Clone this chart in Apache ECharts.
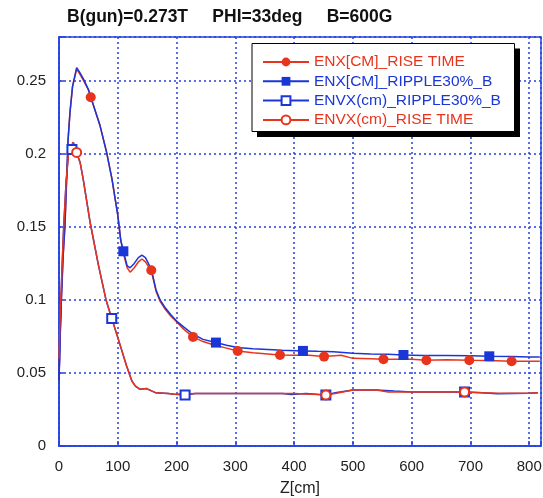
<!DOCTYPE html>
<html>
<head>
<meta charset="utf-8">
<script src="https://cdn.jsdelivr.net/npm/echarts@6/dist/echarts.min.js"></script>
<style>
  html, body { margin: 0; padding: 0; background: #ffffff; }
  #chart { width: 543px; height: 498px; }
</style>
</head>
<body>
<div id="chart"></div>
<script>
// Emittance along the beam line: ENX / ENVX for rise-time and 30% ripple cases
const chartTitle = 'B(gun)=0.273T     PHI=33deg     B=600G';
const xAxisName = 'Z[cm]';
const xTickValues = [0, 100, 200, 300, 400, 500, 600, 700, 800];
const yTickValues = [0, 0.05, 0.1, 0.15, 0.2, 0.25];
const yTickLabels = ['0', '0.05', '0.1', '0.15', '0.2', '0.25'];

const seriesNames = [
  'ENX[CM]_RISE TIME',
  'ENX[CM]_RIPPLE30%_B',
  'ENVX(cm)_RIPPLE30%_B',
  'ENVX(cm)_RISE TIME'
];

// ENX, rise time (red, filled circles)
const enxRiseZ = [0, 2, 4, 7, 10, 15.5, 18.7, 23, 30, 35, 42, 50, 62, 70, 81, 90, 100, 105, 110, 116, 121, 128, 135, 141, 147, 152, 165, 172, 180, 190, 200, 212, 245, 265, 285, 330, 355, 400, 425, 480, 500, 530, 580, 600, 660, 730, 800, 818];
const enxRiseV = [0.045, 0.075, 0.1, 0.13, 0.15, 0.21, 0.2285, 0.246, 0.258, 0.255, 0.25, 0.244, 0.229, 0.219, 0.201, 0.183, 0.158, 0.141, 0.131, 0.122, 0.119, 0.122, 0.126, 0.128, 0.126, 0.123, 0.106, 0.099, 0.094, 0.089, 0.085, 0.080, 0.0715, 0.069, 0.067, 0.0638, 0.063, 0.0621, 0.0621, 0.0621, 0.0600, 0.0597, 0.0594, 0.0594, 0.0590, 0.0585, 0.058, 0.058];
const enxRiseMarkZ = [54, 157, 228, 304, 376, 451, 552, 625, 698, 770];
const enxRiseMarkV = [0.2388, 0.1203, 0.0747, 0.0651, 0.0623, 0.0612, 0.0594, 0.0587, 0.0587, 0.058];

// ENX, 30% ripple (blue, filled squares)
const enxRippleZ = [0, 2, 4, 7, 10, 15.5, 18.7, 23, 30, 35, 42, 50, 62, 70, 81, 90, 100, 105, 116, 121, 128, 135, 141, 147, 152, 157, 165, 172, 180, 190, 200, 212, 228, 245, 285, 304, 330, 355, 380, 440, 467, 500, 530, 560, 620, 660, 700, 770, 800, 818];
const enxRippleV = [0.045, 0.075, 0.1, 0.13, 0.15, 0.21, 0.2285, 0.246, 0.259, 0.256, 0.251, 0.244, 0.229, 0.219, 0.201, 0.183, 0.158, 0.141, 0.1233, 0.122, 0.125, 0.129, 0.1306, 0.129, 0.125, 0.121, 0.107, 0.1, 0.095, 0.09, 0.0855, 0.0815, 0.0765, 0.073, 0.069, 0.0674, 0.0665, 0.066, 0.0655, 0.0648, 0.0646, 0.0635, 0.063, 0.0628, 0.062, 0.062, 0.0617, 0.0612, 0.061, 0.061];
const enxRippleMarkZ = [109.5, 267, 415, 586, 732];
const enxRippleMarkV = [0.1333, 0.0708, 0.0651, 0.0623, 0.0614];

// ENVX, 30% ripple (blue, hollow squares)
const envRippleZ = [0, 2, 5, 8, 12, 16, 20, 24.3, 27, 36, 41, 53, 67, 80, 101, 115, 124, 130, 138, 149, 164, 186, 196, 232, 300, 380, 395, 420, 470, 500, 540, 570, 600, 650, 720, 745, 800, 815];
const envRippleV = [0.045, 0.08, 0.12, 0.15, 0.18, 0.2, 0.205, 0.208, 0.204, 0.194, 0.183, 0.153, 0.124, 0.1, 0.073, 0.0548, 0.0445, 0.041, 0.0388, 0.0393, 0.0365, 0.0359, 0.0354, 0.036, 0.036, 0.036, 0.0352, 0.036, 0.0365, 0.0384, 0.0384, 0.0376, 0.037, 0.037, 0.0365, 0.0358, 0.0361, 0.0365];
const envRippleMarkZ = [22, 89.7, 214.5, 454, 690];
const envRippleMarkV = [0.203, 0.0873, 0.0349, 0.0349, 0.037];

// ENVX, rise time (red, hollow circles)
const envRiseZ = [0, 2, 5, 8, 12, 16, 20, 24.3, 27, 36, 41, 53, 67, 80, 101, 115, 124, 130, 138, 149, 164, 186, 196, 232, 300, 400, 430, 470, 500, 540, 560, 600, 650, 720, 750, 800, 815];
const envRiseV = [0.06, 0.09, 0.12, 0.15, 0.18, 0.2, 0.205, 0.208, 0.204, 0.194, 0.183, 0.153, 0.124, 0.1, 0.073, 0.0548, 0.0445, 0.041, 0.0388, 0.0393, 0.0365, 0.0359, 0.0354, 0.036, 0.036, 0.036, 0.0355, 0.036, 0.0384, 0.0384, 0.037, 0.037, 0.037, 0.0365, 0.0361, 0.0361, 0.0365];
const envRiseMarkZ = [30, 454, 690];
const envRiseMarkV = [0.201, 0.035, 0.037];

const RED = '#e8341c';
const BLUE = '#1a36d6';
const GRID_BLUE = '#2440e0';
const FONT = 'Liberation Sans, Arial, sans-serif';

// merge a curve with its marker points; only marker points get a visible symbol
function buildSeriesData(z, v, mz, mv, size) {
  const pts = z.map((x, i) => ({ value: [x, v[i]], symbolSize: 0 }));
  mz.forEach((x, i) => pts.push({ value: [x, mv[i]], symbolSize: size }));
  pts.sort((a, b) => a.value[0] - b.value[0]);
  return pts;
}

function lineSeries(name, color, symbol, data, borderWidth) {
  return {
    name: name,
    type: 'line',
    data: data,
    symbol: symbol,
    showSymbol: true,
    showAllSymbol: true,
    smooth: false,
    color: color,
    lineStyle: { color: color, width: 1.5 },
    itemStyle: { color: color, borderColor: color, borderWidth: borderWidth },
    emphasis: { disabled: true },
    animation: false
  };
}

const chart = echarts.init(document.getElementById('chart'), null, { renderer: 'canvas' });

chart.setOption({
  animation: false,
  backgroundColor: '#ffffff',
  title: {
    text: chartTitle,
    left: 67,
    top: 8,
    padding: 0,
    textStyle: { fontFamily: FONT, fontSize: 17.5, fontWeight: 'bold', color: '#111' }
  },
  grid: {
    left: 59, right: 2, top: 37, bottom: 52,
    containLabel: false,
    outerBoundsMode: 'none',
    show: true, borderColor: GRID_BLUE, borderWidth: 1.5, backgroundColor: 'transparent'
  },
  // legend frame with a solid drop shadow
  graphic: [
    { type: 'rect', z: 50, silent: true,
      shape: { x: 257, y: 48.5, width: 263, height: 88.5 },
      style: { fill: '#000000' } },
    { type: 'rect', z: 51, silent: true,
      shape: { x: 252, y: 43.5, width: 262.5, height: 88 },
      style: { fill: '#ffffff', stroke: '#000000', lineWidth: 1 } }
  ],
  legend: {
    z: 60,
    orient: 'vertical',
    left: 252,
    top: 43,
    padding: [11, 14, 7, 10],
    itemGap: 3.3,
    itemWidth: 46,
    itemHeight: 11,
    backgroundColor: 'transparent',
    borderWidth: 0,
    selectedMode: false,
    textStyle: { fontFamily: FONT, fontSize: 15.5 },
    data: [
      { name: seriesNames[0], textStyle: { color: RED } },
      { name: seriesNames[1], textStyle: { color: BLUE } },
      { name: seriesNames[2], textStyle: { color: BLUE } },
      { name: seriesNames[3], textStyle: { color: RED } }
    ]
  },
  xAxis: {
    type: 'value',
    min: 0,
    max: 820,
    interval: 100,
    name: xAxisName,
    nameLocation: 'middle',
    nameGap: 35,
    nameTextStyle: { fontFamily: FONT, fontSize: 16, color: '#222' },
    axisLine: { show: true, lineStyle: { color: GRID_BLUE, width: 1.5 } },
    axisTick: { show: true, inside: true, length: 5, lineStyle: { color: GRID_BLUE, width: 1.5 } },
    axisLabel: {
      margin: 13,
      fontFamily: FONT,
      fontSize: 15,
      color: '#222',
      showMaxLabel: true,
      formatter: v => (xTickValues.indexOf(v) >= 0 ? String(v) : '')
    },
    splitLine: { show: true, lineStyle: { color: GRID_BLUE, type: [2, 3], width: 1.5 } }
  },
  yAxis: {
    type: 'value',
    min: 0,
    max: 0.28,
    interval: 0.05,
    axisLine: { show: true, lineStyle: { color: GRID_BLUE, width: 1.5 } },
    axisTick: { show: true, inside: true, length: 5, lineStyle: { color: GRID_BLUE, width: 1.5 } },
    axisLabel: {
      margin: 13,
      fontFamily: FONT,
      fontSize: 15,
      color: '#222',
      formatter: v => {
        const i = yTickValues.findIndex(t => Math.abs(t - v) < 1e-9);
        return i >= 0 ? yTickLabels[i] : '';
      }
    },
    splitLine: { show: true, lineStyle: { color: GRID_BLUE, type: [2, 3], width: 1.5 } }
  },
  series: [
    lineSeries(seriesNames[0], RED, 'circle',
      buildSeriesData(enxRiseZ, enxRiseV, enxRiseMarkZ, enxRiseMarkV, 10), 0),
    lineSeries(seriesNames[1], BLUE, 'rect',
      buildSeriesData(enxRippleZ, enxRippleV, enxRippleMarkZ, enxRippleMarkV, 10), 0),
    lineSeries(seriesNames[2], BLUE, 'emptyRect',
      buildSeriesData(envRippleZ, envRippleV, envRippleMarkZ, envRippleMarkV, 9), 1.5),
    lineSeries(seriesNames[3], RED, 'emptyCircle',
      buildSeriesData(envRiseZ, envRiseV, envRiseMarkZ, envRiseMarkV, 9), 1.5)
  ]
});
</script>
</body>
</html>
